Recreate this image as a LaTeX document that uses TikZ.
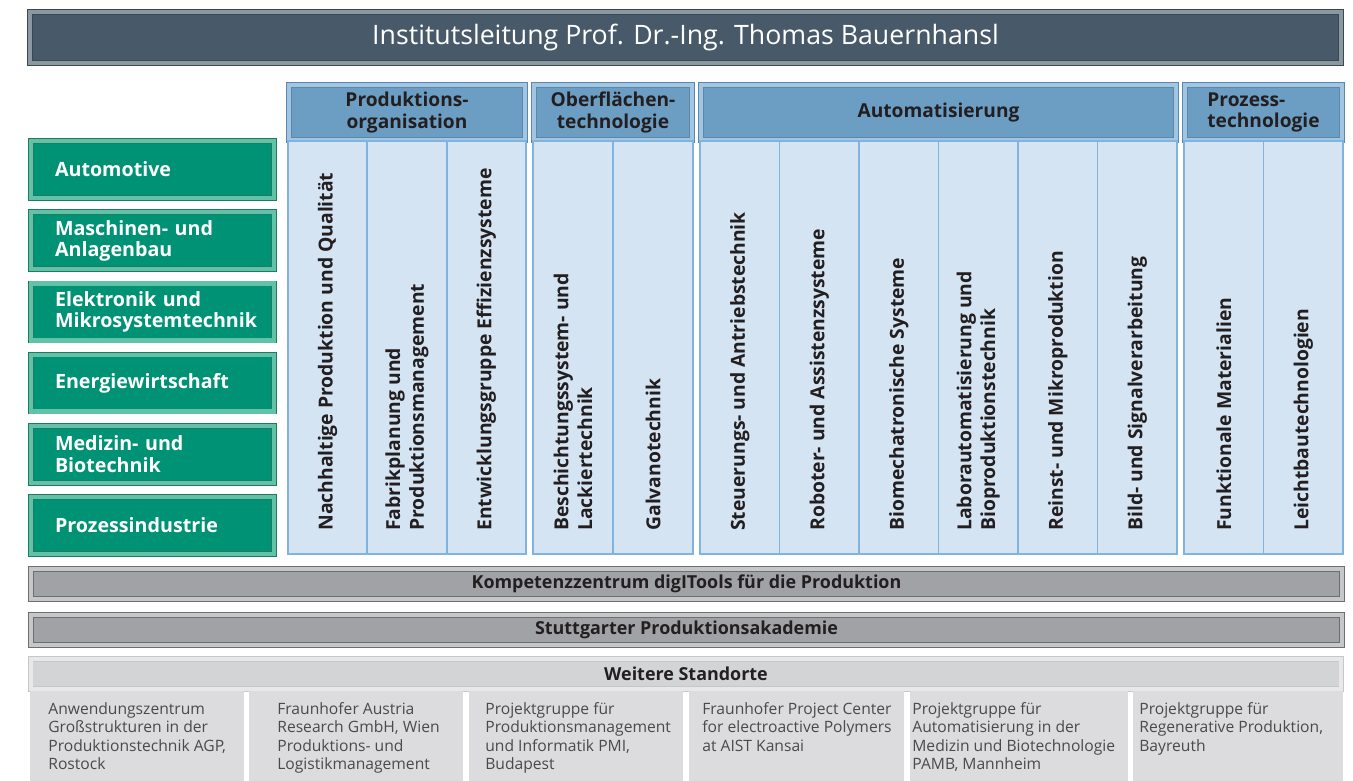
\documentclass[tikz,border=0pt]{standalone}
\usepackage{fontspec}
\setmainfont{Open Sans}
\usepackage{xcolor}
\usepackage{tikz}
\usetikzlibrary{positioning}

\definecolor{slate}{HTML}{485A69}
\definecolor{slateedge}{HTML}{8A98A2}
\definecolor{slateline}{HTML}{3A4852}
\definecolor{fieldgreen}{HTML}{009274}
\definecolor{fieldedge}{HTML}{62C2A6}
\definecolor{fieldline}{HTML}{1F7A63}
\definecolor{deptblue}{HTML}{6C9DC3}
\definecolor{deptedge}{HTML}{A2C6E2}
\definecolor{deptline}{HTML}{5A88AC}
\definecolor{colblue}{HTML}{D5E4F3}
\definecolor{colline}{HTML}{80B3DD}
\definecolor{bargray}{HTML}{A0A2A5}
\definecolor{baredge}{HTML}{C6C7C9}
\definecolor{barline}{HTML}{6D6E70}
\definecolor{sitehead}{HTML}{D3D4D5}
\definecolor{siteedge}{HTML}{E8E8E8}
\definecolor{sitecell}{HTML}{DCDCDE}
\definecolor{inkdark}{HTML}{231F20}
\definecolor{inkgray}{HTML}{4A4A4A}

\begin{document}
\begin{tikzpicture}[x=0.02cm, y=-0.02cm,
  bevel/.style 2 args={draw=#1, line width=0.4pt, double=#2, double distance=2.4pt},
  leitung/.style={bevel={slateline}{slateedge}, fill=slate, inner sep=0pt, minimum width=26.22cm, minimum height=1.02cm, text=white, font=\fontsize{15.2}{17}\selectfont},
  field/.style={bevel={fieldline}{fieldedge}, fill=fieldgreen, inner sep=0pt, minimum width=4.86cm, minimum height=1.14cm, text=white, text width=3.9cm, align=left, font=\bfseries\fontsize{11.2}{12.3}\selectfont},
  dept/.style={bevel={deptline}{deptedge}, fill=deptblue, inner sep=0pt, minimum height=1.1cm, text=inkdark, align=center, font=\bfseries\fontsize{10.9}{12}\selectfont},
  column/.style={draw=colline, line width=1.1pt, fill=colblue, inner sep=0pt, minimum height=8.26cm},
  coltext/.style={rotate=90, anchor=west, align=left, inner sep=0pt, text=inkdark, font=\bfseries\fontsize{11}{13.5}\selectfont},
  bar/.style={bevel={barline}{baredge}, fill=bargray, inner sep=0pt, minimum width=26.22cm, minimum height=0.6cm, text=inkdark, font=\bfseries\fontsize{10.2}{12}\selectfont},
  sitebar/.style={bar, bevel={baredge}{siteedge}, fill=sitehead},
  site/.style={fill=sitecell, inner sep=0pt, minimum height=1.8cm},
  sitetext/.style={anchor=north west, align=left, inner sep=0pt, text=inkgray, font=\fontsize{8.9}{10.5}\selectfont}
]
 \useasboundingbox (0,0) rectangle (1353,781);

 % Head of institute
 \node[leitung] (leitung) at (685.5,37.5) {Institutsleitung Prof. Dr.-Ing. Thomas Bauernhansl};

 % Business fields
 \foreach \lbl [count=\i] in {Automotive, {Maschinen- und\\Anlagenbau}, {Elektronik und\\Mikrosystemtechnik}, Energiewirtschaft, {Medizin- und\\Biotechnik}, Prozessindustrie}{
   \node[field] (f\i) at (152.5,{169.5+(\i-1)*71.2}) {\lbl};
 }

 % Departments
 \node[dept, minimum width=4.72cm] (po) at (407,112.5) {Produktions-\\organisation};
 \node[dept, minimum width=3.16cm] (ot) at (613,112.5) {Oberflächen-\\technologie};
 \node[dept, minimum width=9.5cm] (au) at (938.5,112.5) {Automatisierung};
 \node[dept, minimum width=3.14cm, align=left] (pt) at (1263.5,112.5) {Prozess-\\technologie};

 % Produktionsorganisation
 \foreach \lbl [count=\i] in {{Nachhaltige Produktion und Qualität}, {Fabrikplanung und\\Produktionsmanagement}, {Entwicklungsgruppe Effizienzsysteme}}{
   \pgfmathsetmacro\xc{288+(\i-0.5)*79.33}
   \node[column, minimum width=1.587cm] (po\i) at (\xc,347.5) {};
   \node[coltext] (po\i-txt) at (\xc,531) {\lbl};
 }

 % Oberflaechentechnologie
 \foreach \lbl [count=\i] in {{Beschichtungssystem- und\\Lackiertechnik}, Galvanotechnik}{
   \pgfmathsetmacro\xc{533+(\i-0.5)*80}
   \node[column, minimum width=1.6cm] (ot\i) at (\xc,347.5) {};
   \node[coltext] (ot\i-txt) at (\xc,531) {\lbl};
 }

 % Automatisierung
 \foreach \lbl [count=\i] in {{Steuerungs- und Antriebstechnik}, {Roboter- und Assistenzsysteme}, {Biomechatronische Systeme}, {Laborautomatisierung und\\Bioproduktionstechnik}, {Reinst- und Mikroproduktion}, {Bild- und Signalverarbeitung}}{
   \pgfmathsetmacro\xc{700+(\i-0.5)*79.5}
   \node[column, minimum width=1.59cm] (au\i) at (\xc,347.5) {};
   \node[coltext] (au\i-txt) at (\xc,531) {\lbl};
 }

 % Prozesstechnologie
 \foreach \lbl [count=\i] in {{Funktionale Materialien}, Leichtbautechnologien}{
   \pgfmathsetmacro\xc{1184+(\i-0.5)*79.5}
   \node[column, minimum width=1.59cm] (pt\i) at (\xc,347.5) {};
   \node[coltext] (pt\i-txt) at (\xc,531) {\lbl};
 }

 % Cross-sectional units
 \node[bar] (kompz) at (686.5,584) {Kompetenzzentrum digITools für die Produktion};
 \node[bar] (akad) at (686.5,630) {Stuttgarter Produktionsakademie};

 % Further locations
 \node[sitebar] (standorte) at (686,674) {Weitere Standorte};
 \node[site, minimum width=4.28cm] (s1) at (137,736) {};
 \node[site, minimum width=4.28cm] (s2) at (356,736) {};
 \node[site, minimum width=4.28cm] (s3) at (576,736) {};
 \node[site, minimum width=4.3cm] (s4) at (796.5,736) {};
 \node[site, minimum width=4.36cm] (s5) at (1019,736) {};
 \node[site, minimum width=4.2cm] (s6) at (1238,736) {};
 \node[sitetext] (s1-txt) at (48,702) {Anwendungszentrum\\Großstrukturen in der\\Produktionstechnik AGP,\\Rostock};
 \node[sitetext] (s2-txt) at (277,702) {Fraunhofer Austria\\Research GmbH, Wien\\Produktions- und\\Logistikmanagement};
 \node[sitetext] (s3-txt) at (485,702) {Projektgruppe für\\Produktionsmanagement\\und Informatik PMI,\\Budapest};
 \node[sitetext] (s4-txt) at (702,702) {Fraunhofer Project Center\\for electroactive Polymers\\at AIST Kansai};
 \node[sitetext] (s5-txt) at (912,702) {Projektgruppe für\\Automatisierung in der\\Medizin und Biotechnologie\\PAMB, Mannheim};
 \node[sitetext] (s6-txt) at (1139,702) {Projektgruppe für\\Regenerative Produktion,\\Bayreuth};
\end{tikzpicture}
\end{document}
